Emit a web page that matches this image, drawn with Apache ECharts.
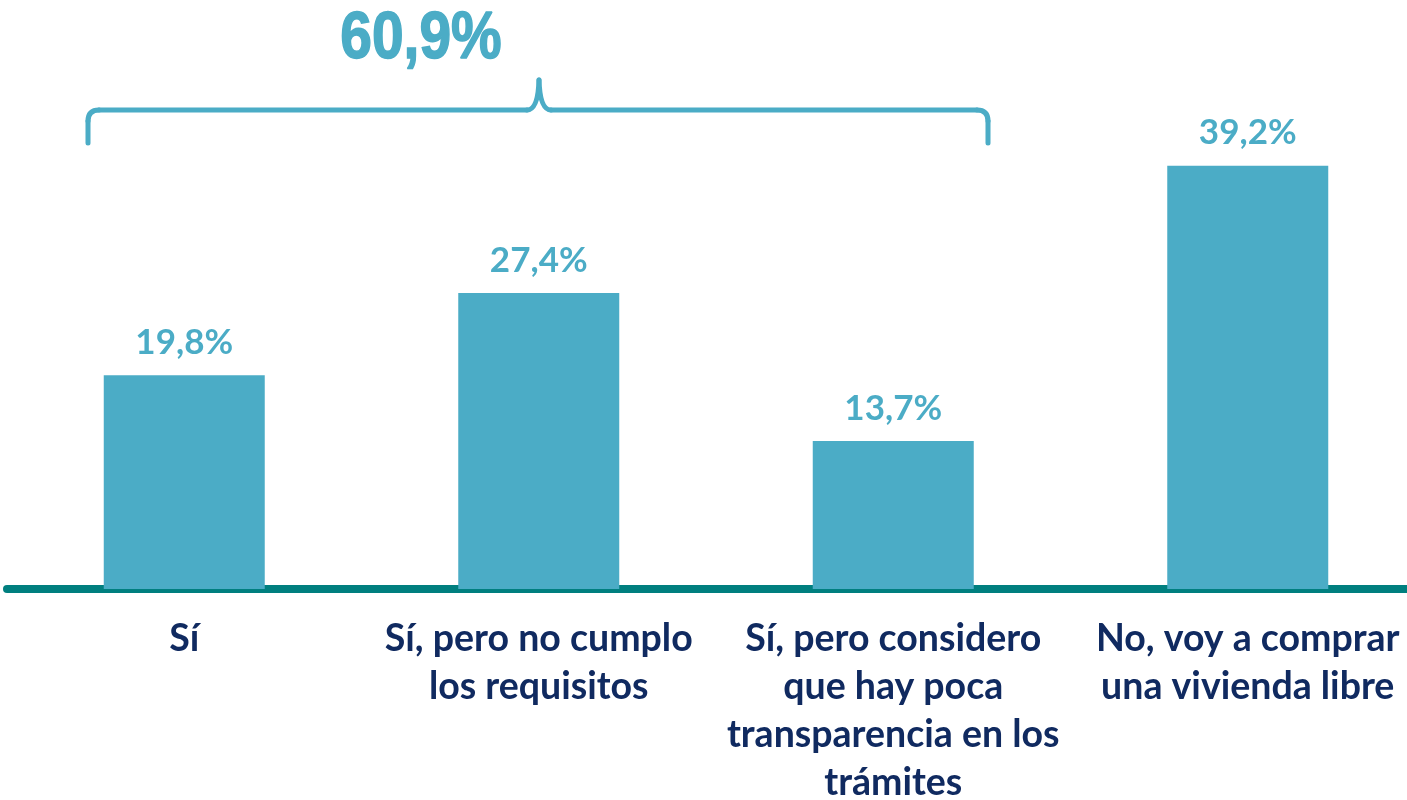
<!DOCTYPE html>
<html>
<head>
<meta charset="utf-8">
<script src="https://cdn.jsdelivr.net/npm/echarts@6/dist/echarts.min.js"></script>
<style>
  html, body { margin: 0; padding: 0; background: #fff; }
  #chart { width: 1407px; height: 800px; }
</style>
</head>
<body>
<div id="chart"></div>
<script>
var categories = [
    'Sí',
    'Sí, pero no cumplo\nlos requisitos',
    'Sí, pero considero\nque hay poca\ntransparencia en los\ntrámites',
    'No, voy a comprar\nuna vivienda libre'
];
var values = [19.8, 27.4, 13.7, 39.2];
var groupTotal = '60,9%';   // suma de las tres primeras respuestas

var barColor = '#4bacc6';
var myChart = echarts.init(document.getElementById('chart'));

// llave sobre las tres primeras barras, por tramos
var braceStyle = { fill: null, stroke: barColor, lineWidth: 5, lineCap: 'round', lineJoin: 'round' };
function seg(x1, y1, x2, y2) {
    return { type: 'line', shape: { x1: x1, y1: y1, x2: x2, y2: y2 }, style: braceStyle };
}
function curve(x1, y1, cx, cy, x2, y2) {
    return { type: 'bezierCurve', shape: { x1: x1, y1: y1, cpx1: cx, cpy1: cy, x2: x2, y2: y2 }, style: braceStyle };
}

var option = {
    backgroundColor: '#fff',
    animation: false,
    grid: {
        left: 7,
        width: 1418,
        top: 49,
        bottom: 211,
        outerBoundsMode: 'none',
        containLabel: false
    },
    xAxis: {
        type: 'category',
        data: categories,
        axisLine: { lineStyle: { color: '#007f7f', width: 8 } },
        axisTick: { show: false },
        axisLabel: {
            interval: 0,
            margin: 26,
            color: '#102a60',
            fontFamily: 'Lato',
            fontWeight: 'bold',
            fontSize: 37.5,
            lineHeight: 48
        }
    },
    yAxis: {
        type: 'value',
        min: 0,
        max: 50,
        show: false
    },
    series: [{
        type: 'bar',
        data: values,
        barWidth: 161,
        itemStyle: { color: barColor },
        label: {
            show: true,
            position: 'top',
            distance: 15,
            color: barColor,
            fontFamily: 'Lato',
            fontWeight: 'bold',
            fontSize: 35,
            formatter: function (p) {
                return p.value.toFixed(1).replace('.', ',') + '%';
            }
        }
    }],
    graphic: [
        seg(88, 143, 88, 121),
        curve(88, 121, 88, 110, 99, 110),
        seg(99, 110, 527, 110),
        curve(527, 110, 538, 110, 539, 80),
        curve(539, 80, 540, 110, 551, 110),
        seg(551, 110, 977, 110),
        curve(977, 110, 988, 110, 988, 121),
        seg(988, 121, 988, 143),
        {
            type: 'text',
            x: 421,
            y: 40,
            scaleX: 0.85,
            style: {
                text: groupTotal,
                x: 0,
                y: 0,
                align: 'center',
                verticalAlign: 'middle',
                fill: barColor,
                stroke: barColor,
                lineWidth: 1.5,
                font: 'bold 67px "Liberation Sans", Arial, sans-serif'
            }
        }
    ]
};

myChart.setOption(option);
</script>
</body>
</html>
